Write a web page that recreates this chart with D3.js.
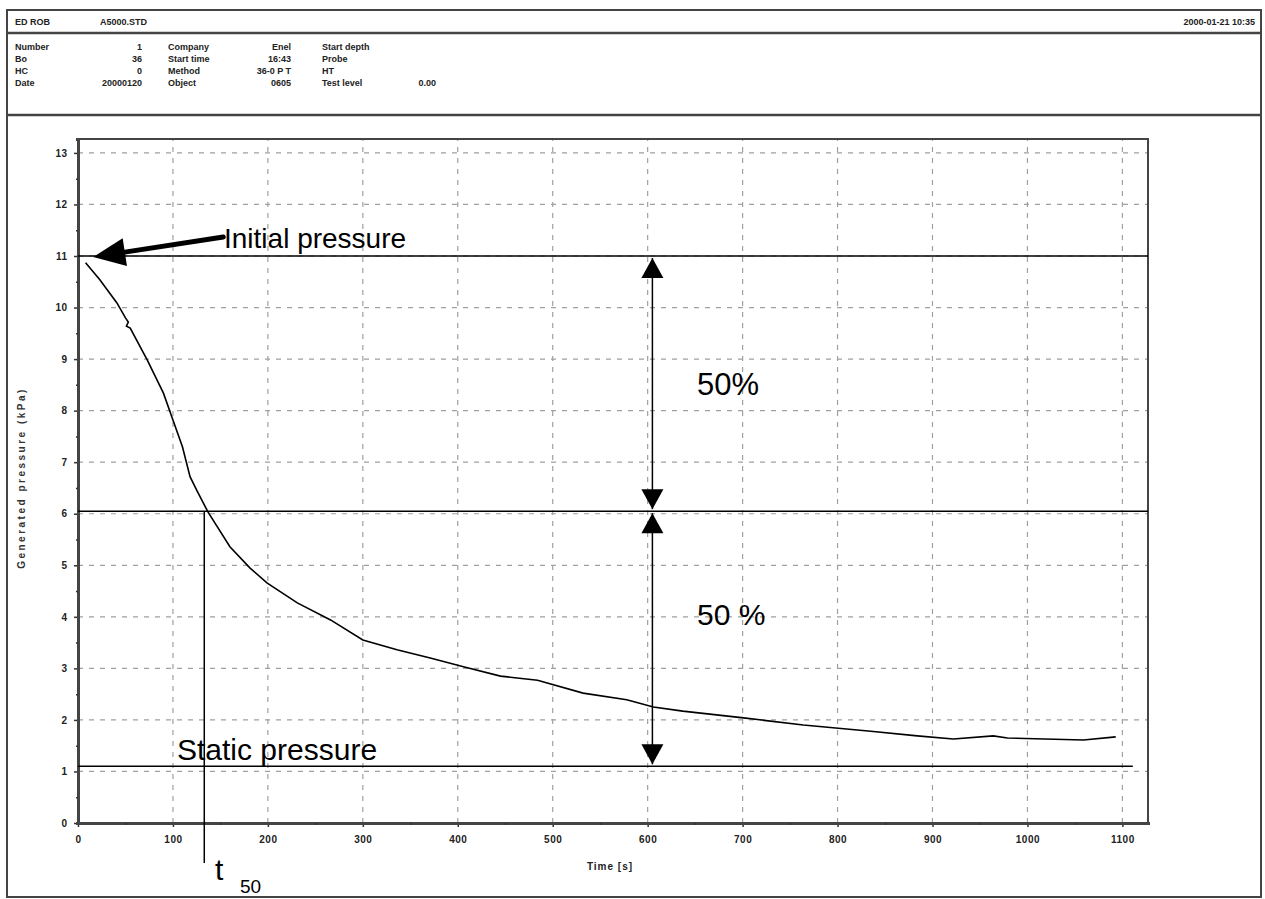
<!DOCTYPE html>
<html>
<head>
<meta charset="utf-8">
<script src="https://cdn.jsdelivr.net/npm/d3@7"></script>
<style>
  body { margin: 0; background: #fff; }
  svg { display: block; font-family: "Liberation Sans", Arial, sans-serif; }
</style>
</head>
<body>
<div id="chart"></div>
<script>
// dissipation test curve
const timeS = [8, 23, 41, 50, 53, 51, 55, 73, 90, 100, 110, 118, 125, 137, 160, 181, 199, 231, 266, 300, 336, 371, 406, 445, 484, 532, 578, 606, 637, 701, 764, 835, 884, 922, 964, 979, 1059, 1093];
const pressureKPa = [10.87, 10.54, 10.09, 9.80, 9.72, 9.64, 9.60, 8.98, 8.34, 7.82, 7.30, 6.72, 6.46, 6.03, 5.36, 4.95, 4.66, 4.27, 3.94, 3.55, 3.36, 3.20, 3.03, 2.85, 2.77, 2.52, 2.39, 2.25, 2.17, 2.04, 1.90, 1.78, 1.69, 1.63, 1.69, 1.65, 1.61, 1.67];

const xTicks = [0, 100, 200, 300, 400, 500, 600, 700, 800, 900, 1000, 1100];
const yTicks = [0, 1, 2, 3, 4, 5, 6, 7, 8, 9, 10, 11, 12, 13];

// annotation values
const initialPressure = 11;
const halfPressure = 6.05;
const staticPressure = 1.1;
const t50 = 133;
const arrowTime = 605;

// header block
const titleLeft = ['ED ROB', 'A5000.STD'];
const titleRight = '2000-01-21 10:35';
const headerLabels1 = ['Number', 'Bo', 'HC', 'Date'];
const headerValues1 = ['1', '36', '0', '20000120'];
const headerLabels2 = ['Company', 'Start time', 'Method', 'Object'];
const headerValues2 = ['Enel', '16:43', '36-0 P T', '0605'];
const headerLabels3 = ['Start depth', 'Probe', 'HT', 'Test level'];
const headerValues3 = ['', '', '', '0.00'];

const width = 1265, height = 899;

const svg = d3.select('#chart').append('svg')
  .attr('width', width)
  .attr('height', height);

// outer frame + header
svg.append('rect')
  .attr('x', 7).attr('y', 10)
  .attr('width', 1254).attr('height', 887)
  .attr('fill', 'none').attr('stroke', '#444').attr('stroke-width', 2);

[33, 115].forEach(y => {
  svg.append('line')
    .attr('x1', 7).attr('x2', 1261).attr('y1', y).attr('y2', y)
    .attr('stroke', '#444').attr('stroke-width', 2.5);
});

const head = svg.append('g')
  .attr('font-size', 9).attr('font-weight', 'bold').attr('fill', '#222');

head.append('text').attr('x', 15).attr('y', 25).text(titleLeft[0]);
head.append('text').attr('x', 100).attr('y', 25).text(titleLeft[1]);
head.append('text').attr('x', 1255).attr('y', 25).attr('text-anchor', 'end').text(titleRight);

const rowY = d3.scalePoint().domain(d3.range(4)).range([50, 86]);

function headerColumn(labels, values, lx, vx) {
  labels.forEach((lab, i) => {
    head.append('text').attr('x', lx).attr('y', rowY(i)).text(lab);
    head.append('text').attr('x', vx).attr('y', rowY(i))
      .attr('text-anchor', 'end').text(values[i]);
  });
}
headerColumn(headerLabels1, headerValues1, 15, 142);
headerColumn(headerLabels2, headerValues2, 168, 291);
headerColumn(headerLabels3, headerValues3, 322, 436);

// scales
const x = d3.scaleLinear().domain([0, 1127]).range([78, 1148]);
const y = d3.scaleLinear().domain([0, 13.27]).range([823, 139]);

// grid
const grid = svg.append('g')
  .attr('stroke', '#a0a0a0').attr('stroke-width', 1.2).attr('stroke-dasharray', '5,6');

grid.selectAll('.gx')
  .data(xTicks.filter(d => d > 0))
  .enter().append('line')
  .attr('x1', d => x(d)).attr('x2', d => x(d))
  .attr('y1', y.range()[0]).attr('y2', y.range()[1]);

grid.selectAll('.gy')
  .data(yTicks.filter(d => d > 0))
  .enter().append('line')
  .attr('y1', d => y(d)).attr('y2', d => y(d))
  .attr('x1', x.range()[0]).attr('x2', x.range()[1]);

// plot frame
svg.append('rect')
  .attr('x', x.range()[0]).attr('y', y.range()[1])
  .attr('width', x.range()[1] - x.range()[0])
  .attr('height', y.range()[0] - y.range()[1])
  .attr('fill', 'none').attr('stroke', '#444').attr('stroke-width', 2);

// axes
const xAxis = d3.axisBottom(x).tickValues(xTicks).tickSize(4).tickSizeOuter(0).tickFormat(d3.format('d'));
const xMinor = d3.axisBottom(x).tickValues(d3.range(50, 1127, 100)).tickSize(2).tickFormat('');
const yAxis = d3.axisLeft(y).tickValues(yTicks).tickSize(4).tickSizeOuter(0).tickFormat(d3.format('d'));
const yMinor = d3.axisLeft(y).tickValues(d3.range(0.5, 13, 1)).tickSize(2).tickFormat('');

function styleAxis(g) {
  g.select('.domain').attr('stroke', '#444').attr('stroke-width', 3);
  g.selectAll('.tick line').attr('stroke', '#333').attr('stroke-width', 1.5);
  g.selectAll('.tick text')
    .attr('font-size', 10).attr('font-weight', 'bold')
    .attr('letter-spacing', 0.5).attr('fill', '#222')
    .attr('font-family', '"Liberation Sans", Arial, sans-serif');
}

svg.append('g').attr('transform', `translate(0,${y(0)})`)
  .call(xAxis).call(styleAxis)
  .selectAll('.tick text').attr('dy', '1.25em');
svg.append('g').attr('transform', `translate(0,${y(0)})`)
  .call(xMinor).call(styleAxis);
svg.append('g').attr('transform', `translate(${x(0)},0)`)
  .call(yAxis).call(styleAxis)
  .selectAll('.tick text').attr('dx', '-0.35em');
svg.append('g').attr('transform', `translate(${x(0)},0)`)
  .call(yMinor).call(styleAxis);

// axis titles
svg.append('text')
  .attr('x', 610).attr('y', 870)
  .attr('text-anchor', 'middle')
  .attr('font-size', 10).attr('font-weight', 'bold').attr('letter-spacing', 1)
  .attr('fill', '#222')
  .text('Time  [s]');

svg.append('text')
  .attr('transform', 'translate(25,478) rotate(-90)')
  .attr('text-anchor', 'middle')
  .attr('font-size', 10).attr('font-weight', 'bold').attr('letter-spacing', 2.5)
  .attr('fill', '#333')
  .text('Generated pressure (kPa)');

// pressure curve
const points = timeS.map((t, i) => [t, pressureKPa[i]]);
const line = d3.line().x(d => x(d[0])).y(d => y(d[1]));

svg.append('path')
  .datum(points)
  .attr('d', line)
  .attr('fill', 'none')
  .attr('stroke', '#000')
  .attr('stroke-width', 1.6);

// reference levels
const ann = svg.append('g').attr('stroke', '#000').attr('stroke-width', 1.5);
ann.append('line')
  .attr('x1', x(0)).attr('x2', x.range()[1])
  .attr('y1', y(initialPressure)).attr('y2', y(initialPressure));
ann.append('line')
  .attr('x1', x(0)).attr('x2', x.range()[1])
  .attr('y1', y(halfPressure)).attr('y2', y(halfPressure));
ann.append('line')
  .attr('x1', x(0)).attr('x2', x(1111))
  .attr('y1', y(staticPressure)).attr('y2', y(staticPressure));

// t50 line
ann.append('line')
  .attr('x1', x(t50)).attr('x2', x(t50))
  .attr('y1', y(halfPressure)).attr('y2', 863);

// double arrows (50 % / 50 %)
function arrowHead(tipX, tipY, dir, len, half) {
  // dir: +1 points down, -1 points up
  const baseY = tipY - dir * len;
  svg.append('path')
    .attr('d', `M${tipX},${tipY} L${tipX - half},${baseY} L${tipX + half},${baseY} Z`)
    .attr('fill', '#000');
}

const ax = x(arrowTime);
[[initialPressure, halfPressure], [halfPressure, staticPressure]].forEach(([a, b]) => {
  ann.append('line')
    .attr('x1', ax).attr('x2', ax)
    .attr('y1', y(a) + 2).attr('y2', y(b) - 2);
  arrowHead(ax, y(a) + 2, -1, 20, 11);
  arrowHead(ax, y(b) - 2, 1, 20, 11);
});

// initial pressure arrow
const tail = [x(153), y(11.37)];
const tip = [x(16), y(10.98)];
const ang = Math.atan2(tip[1] - tail[1], tip[0] - tail[0]);
const headLen = 32, headHalf = 14;
const bx = tip[0] - headLen * Math.cos(ang), by = tip[1] - headLen * Math.sin(ang);
svg.append('line')
  .attr('x1', tail[0]).attr('y1', tail[1])
  .attr('x2', bx).attr('y2', by)
  .attr('stroke', '#000').attr('stroke-width', 5).attr('stroke-linecap', 'round');
svg.append('path')
  .attr('d', `M${tip[0]},${tip[1]}
    L${bx + headHalf * Math.sin(ang)},${by - headHalf * Math.cos(ang)}
    L${bx - headHalf * Math.sin(ang)},${by + headHalf * Math.cos(ang)} Z`)
  .attr('fill', '#000');

// labels
const labels = svg.append('g').attr('fill', '#000').attr('font-family', 'Arial, "Liberation Sans", sans-serif');
labels.append('text').attr('x', 224).attr('y', 248).attr('font-size', 28).text('Initial pressure');
labels.append('text').attr('x', 697).attr('y', 395).attr('font-size', 31).text('50%');
labels.append('text').attr('x', 697).attr('y', 625).attr('font-size', 30).text('50 %');
labels.append('text').attr('x', 177).attr('y', 760).attr('font-size', 30).text('Static pressure');
labels.append('text').attr('x', 215).attr('y', 880).attr('font-size', 30).text('t');
labels.append('text').attr('x', 240).attr('y', 893).attr('font-size', 19).text('50');
</script>
</body>
</html>
